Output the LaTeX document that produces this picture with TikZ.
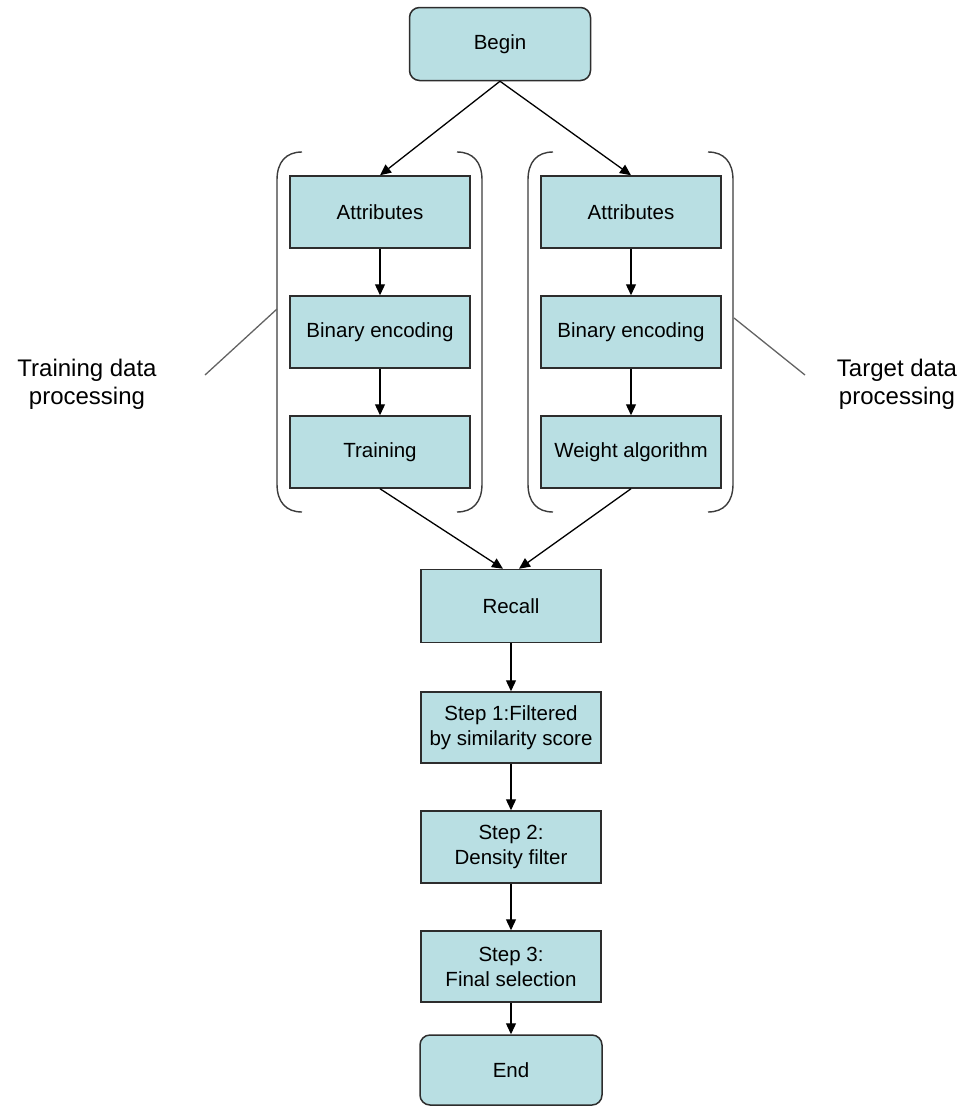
\documentclass[tikz,border=0pt]{standalone}
\usepackage{fontspec}
\setmainfont{Liberation Sans}
\usetikzlibrary{arrows.meta}
\definecolor{boxfill}{RGB}{185,223,227}
\definecolor{boxline}{RGB}{45,45,45}
\definecolor{brk}{RGB}{60,60,60}
\begin{document}
\begin{tikzpicture}[x=1pt,y=-1pt,
  box/.style={draw=boxline,line width=1.5pt,fill=boxfill,minimum width=180pt,minimum height=72pt,
    inner sep=0pt,align=center,font=\fontsize{20.5pt}{25pt}\selectfont},
  term/.style={box,rounded corners=10pt},
  arr/.style={draw=black,line width=1.3pt,-{Triangle[length=11pt,width=10pt]}},
  bracket/.style={draw=brk,line width=1.4pt},
  leader/.style={draw=brk!80,line width=1.3pt},
  lbl/.style={align=center,font=\fontsize{24pt}{28pt}\selectfont,inner sep=0pt}]
\useasboundingbox (0,0) rectangle (971,1106);
% nodes
\node[term,minimum width=181pt,minimum height=73pt] (begin) at (500,44) {Begin};
\node[box] (attL) at (380,212) {Attributes};
\node[box] (binL) at (380,332) {Binary encoding};
\node[box] (train) at (380,452) {Training};
\node[box] (attR) at (631,212) {Attributes};
\node[box] (binR) at (631,332) {Binary encoding};
\node[box] (weight) at (631,452) {Weight algorithm};
\node[box,minimum height=73pt] (recall) at (511,606) {Recall};
\node[box,minimum height=71pt] (s1) at (511,727.5) {Step 1:Filtered\\by similarity score};
\node[box,minimum height=72pt] (s2) at (511,847) {Step 2:\\Density filter};
\node[box,minimum height=71pt] (s3) at (511,966.5) {Step 3:\\Final selection};
\node[term,minimum width=182pt,minimum height=70pt] (end) at (511,1070) {End};
\node[lbl] (labL) at (87,384) {Training data\\processing};
\node[lbl] (labR) at (897,384) {Target data\\processing};
% connectors
\draw[arr] (begin.south) -- (attL.north);
\draw[arr] (begin.south) -- (attR.north);
\draw[arr] (attL) -- (binL);
\draw[arr] (binL) -- (train);
\draw[arr] (attR) -- (binR);
\draw[arr] (binR) -- (weight);
\coordinate (rinL) at ([xshift=-8pt]recall.north);
\coordinate (rinR) at ([xshift=8pt]recall.north);
\draw[arr] (train.south) -- (rinL);
\draw[arr] (weight.south) -- (rinR);
\draw[arr] (recall) -- (s1);
\draw[arr] (s1) -- (s2);
\draw[arr] (s2) -- (s3);
\draw[arr] (s3) -- (end);
% brackets
\draw[bracket] (302,152) .. controls (286,152) and (277,162) .. (277,180) -- (277,484) .. controls (277,502) and (286,512) .. (302,512);
\draw[bracket] (457,152) .. controls (473,152) and (482,162) .. (482,180) -- (482,484) .. controls (482,502) and (473,512) .. (457,512);
\draw[bracket] (553,152) .. controls (537,152) and (528,162) .. (528,180) -- (528,484) .. controls (528,502) and (537,512) .. (553,512);
\draw[bracket] (708,152) .. controls (724,152) and (733,162) .. (733,180) -- (733,484) .. controls (733,502) and (724,512) .. (708,512);
% leaders
\coordinate (lA) at (277,309);
\coordinate (lB) at (205,375);
\coordinate (rA) at (734,318);
\coordinate (rB) at (805,375);
\draw[leader] (lA) -- (lB);
\draw[leader] (rA) -- (rB);
\end{tikzpicture}
\end{document}
